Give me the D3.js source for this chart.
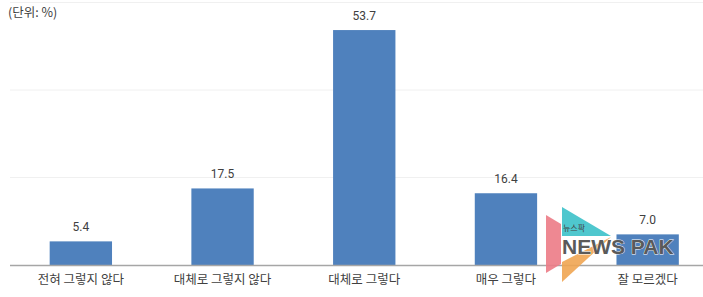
<!DOCTYPE html>
<html>
<head>
<meta charset="utf-8">
<script src="https://cdn.jsdelivr.net/npm/d3@7"></script>
<style>
  body { margin: 0; background: #fff; }
  text { font-family: "Noto Sans CJK KR", "Noto Sans", sans-serif; }
</style>
</head>
<body>
<svg id="chart" width="703" height="297"></svg>
<script>
const categories = ['전혀 그렇지 않다', '대체로 그렇지 않다', '대체로 그렇다', '매우 그렇다', '잘 모르겠다'];
const values = [5.4, 17.5, 53.7, 16.4, 7.0];
const gridTicks = [0, 20, 40, 60];

const svg = d3.select('#chart');
const W = 703, H = 297;
const margin = {top: 2.5, bottom: 32, left: 10};

let x = d3.scaleBand()
  .domain(categories)
  .range([margin.left, margin.left + 141.7 * 5])
  .paddingInner(0.56)
  .paddingOuter(0.28);

let y = d3.scaleLinear()
  .domain([0, 60])
  .range([H - margin.bottom, margin.top]);

// Faint gridlines
svg.append('g')
  .selectAll('line')
  .data(gridTicks.slice(1))
  .join('line')
  .attr('x1', margin.left)
  .attr('x2', W)
  .attr('y1', d => y(d))
  .attr('y2', d => y(d))
  .style('stroke', '#f0f0f0')
  .style('stroke-width', 1);

// Bars
svg.append('g')
  .selectAll('rect')
  .data(values)
  .join('rect')
  .attr('x', (d, i) => x(categories[i]))
  .attr('y', d => y(d))
  .attr('width', x.bandwidth())
  .attr('height', d => y(0) - y(d))
  .style('fill', '#4f81bd');

// Baseline
svg.append('line')
  .attr('x1', margin.left)
  .attr('x2', W)
  .attr('y1', y(0) + 0.5)
  .attr('y2', y(0) + 0.5)
  .style('stroke', '#a6a6a6')
  .style('stroke-width', 1.5);

// Value labels
svg.append('g')
  .selectAll('text')
  .data(values)
  .join('text')
  .attr('x', (d, i) => x(categories[i]) + x.bandwidth() / 2)
  .attr('y', d => y(d) - 10)
  .style('text-anchor', 'middle')
  .style('font-size', '12px')
  .style('fill', '#404040')
  .style('font-family', 'Roboto, "Noto Sans", sans-serif')
  .text(d => d.toFixed(1));

// Category labels
let xAxis = svg.append('g')
  .attr('transform', `translate(0, ${y(0)})`)
  .call(d3.axisBottom(x).tickSize(0).tickPadding(10));
xAxis.select('.domain').remove();
xAxis.selectAll('text')
  .style('font-size', '12.5px')
  .style('fill', '#404040')
  .style('font-family', '"Noto Sans CJK KR", sans-serif');

// Unit note
svg.append('text')
  .attr('x', 8)
  .attr('y', 17)
  .style('font-size', '12.5px')
  .style('fill', '#404040')
  .text('(단위: %)');

// Watermark logo
let logo = svg.append('g').attr('class', 'logo');
logo.append('polygon')
  .attr('points', '546,215 561,224 561,264 546,273')
  .style('fill', '#ec7b86').style('opacity', 0.9);
logo.append('polygon')
  .attr('points', '562,207 611,236 562,236')
  .style('fill', '#3cc1c9').style('opacity', 0.9);
logo.append('polygon')
  .attr('points', '611,237 562,262 562,282')
  .style('fill', '#f0a552').style('opacity', 0.9);
logo.append('text')
  .attr('x', 563)
  .attr('y', 231)
  .style('font-size', '8px')
  .style('fill', '#444')
  .text('뉴스팍');
logo.append('text')
  .attr('x', 562)
  .attr('y', 254)
  .style('font-size', '21px')
  .style('font-weight', 'bold')
  .style('font-family', '"Liberation Sans", Arial, sans-serif')
  .style('fill', '#5a5a5a')
  .style('stroke', '#fff')
  .style('stroke-width', 0.8)
  .style('paint-order', 'stroke')
  .text('NEWS PAK');
</script>
</body>
</html>
